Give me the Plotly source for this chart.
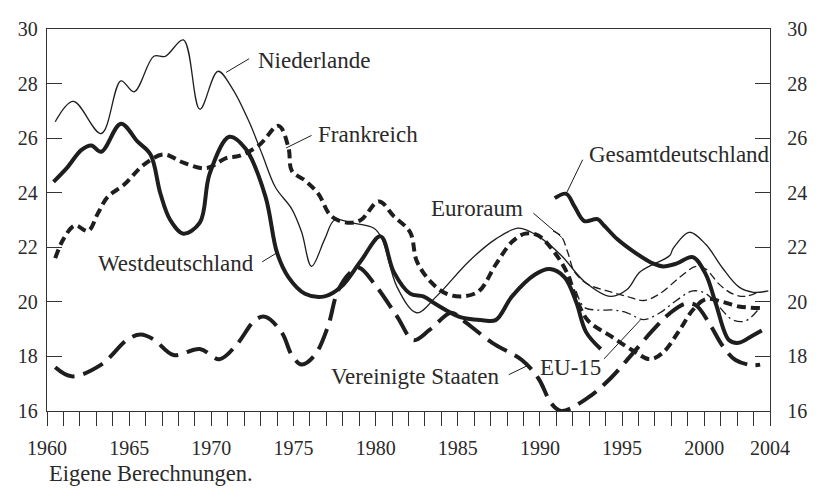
import plotly.graph_objects as go

# Niederlande (duenn, durchgezogen)
nl_x = [1960.5, 1961.6, 1963.3, 1964.5, 1965.3, 1966.5, 1967.2, 1968.3, 1969.3, 1970.4,
        1971.3, 1972.3, 1973.1, 1973.9, 1974.9, 1975.5, 1976.1, 1976.9, 1977.5, 1978.5,
        1979.9, 1980.4, 1981.3, 1982.5, 1983.7, 1985.7, 1987.3, 1988.7, 1989.9, 1991.3,
        1992.7, 1994.3, 1995.3, 1996.1, 1997.9, 1998.1, 1999.1, 2000.1, 2001.1, 2002.1,
        2003.0, 2003.9]
nl_y = [26.6, 27.35, 26.17, 28.1, 27.7, 29.0, 29.0, 29.6, 27.06, 28.45,
        27.8, 26.6, 25.4, 24.2, 23.4, 22.55, 21.3, 22.3, 23.0, 22.9,
        22.7, 22.3, 20.55, 19.6, 20.2, 21.5, 22.3, 22.7, 22.4, 21.7,
        20.75, 20.2, 20.45, 21.1, 21.7, 21.95, 22.55, 22.1, 21.25, 20.55,
        20.35, 20.4]

# Westdeutschland (dick, durchgezogen)
wd_x = [1960.4, 1961.2, 1962.1, 1962.7, 1963.3, 1964.5, 1965.5, 1966.3, 1966.9, 1967.5,
        1968.3, 1969.3, 1969.9, 1971.1, 1972.1, 1973.3, 1974.0, 1974.7, 1975.7, 1976.9,
        1977.9, 1979.1, 1980.3, 1981.1, 1982.1, 1982.9, 1983.7, 1985.1, 1986.5, 1987.3,
        1988.3, 1989.7, 1990.6, 1991.5, 1992.2, 1992.8, 1993.7]
wd_y = [24.4, 24.9, 25.57, 25.73, 25.5, 26.53, 25.88, 25.4, 23.97, 23.0,
        22.5, 22.9, 24.7, 26.05, 25.6, 23.85, 21.8, 20.9, 20.3, 20.2,
        20.55, 21.5, 22.4, 21.1, 20.3, 20.2, 19.9, 19.45, 19.33, 19.33,
        20.2, 21.0, 21.2, 20.9, 20.0, 18.9, 18.27]

# Gesamtdeutschland (dick, durchgezogen)
gd_x = [1990.9, 1991.6, 1992.1, 1992.7, 1993.5, 1993.9, 1994.7, 1995.7, 1996.9, 1997.5,
        1998.3, 1999.3, 2000.1, 2000.7, 2001.5, 2002.1, 2002.9, 2003.5]
gd_y = [23.8, 23.96, 23.5, 22.96, 23.03, 22.8, 22.3, 21.84, 21.4, 21.3,
        21.4, 21.64, 21.0, 19.94, 18.6, 18.5, 18.75, 18.95]

# Frankreich (dick, kurz gestrichelt)
fr_x = [1960.5, 1961.0, 1961.7, 1962.5, 1963.1, 1963.7, 1964.7, 1965.9, 1967.1, 1968.3,
        1969.7, 1970.9, 1971.7, 1972.9, 1974.1, 1974.7, 1974.9, 1975.7, 1976.5, 1977.3,
        1978.3, 1979.1, 1980.2, 1981.1, 1982.1, 1982.5, 1983.3, 1984.3, 1985.3, 1986.3,
        1987.3, 1988.3, 1989.1, 1989.9, 1990.9, 1991.7, 1992.1, 1992.9, 1994.3, 1995.7,
        1996.7, 1997.5, 1998.5, 1999.3, 2000.1, 2001.1, 2002.1, 2003.4]
fr_y = [21.6, 22.3, 22.8, 22.6, 23.25, 23.85, 24.3, 25.03, 25.4, 25.1,
        24.9, 25.27, 25.35, 25.74, 26.45, 25.64, 24.8, 24.45, 23.97, 23.14,
        22.9, 23.0, 23.68, 23.14, 22.55, 21.5, 20.77, 20.3, 20.2, 20.4,
        21.36, 22.2, 22.5, 22.43, 21.8, 21.0, 20.3, 19.33, 18.75, 18.2,
        17.9, 18.15, 18.97, 19.7, 20.1, 20.0, 19.83, 19.77]

# Euroraum (duenn, gestrichelt)
ez_x = [1990.8, 1991.3, 1991.7, 1992.1, 1992.9, 1994.1, 1995.3, 1996.3, 1997.3, 1998.5,
        1999.5, 2000.1, 2000.9, 2001.7, 2002.5, 2003.4]
ez_y = [22.6, 22.4, 21.8, 21.1, 20.65, 20.4, 20.2, 20.05, 20.3, 20.9,
        21.3, 21.2, 20.65, 20.3, 20.2, 20.4]

# EU-15 (duenn, Strich-Punkt)
e15_x = [1992.2, 1992.7, 1993.5, 1994.5, 1995.3, 1996.3, 1997.3, 1998.3, 1999.3, 2000.1,
         2000.9, 2001.7, 2002.5, 2003.4]
e15_y = [20.4, 19.8, 19.7, 19.7, 19.6, 19.35, 19.6, 20.05, 20.4, 20.3,
         19.82, 19.35, 19.3, 19.8]

# Vereinigte Staaten (dick, lang gestrichelt)
us_x = [1960.5, 1961.5, 1963.3, 1964.9, 1965.7, 1966.5, 1967.7, 1969.3, 1970.5, 1971.5,
        1972.7, 1973.3, 1974.3, 1974.9, 1975.5, 1976.3, 1977.1, 1977.7, 1978.5, 1979.0,
        1980.0, 1981.3, 1982.3, 1983.3, 1984.6, 1985.3, 1987.1, 1988.9, 1989.9, 1990.7,
        1991.3, 1992.9, 1994.3, 1995.7, 1996.9, 1997.9, 1998.9, 1999.5, 2000.3, 2001.1,
        2001.9, 2002.9, 2003.4]
us_y = [17.6, 17.27, 17.7, 18.62, 18.8, 18.62, 18.05, 18.27, 17.9, 18.4,
        19.35, 19.45, 18.86, 18.05, 17.7, 18.05, 19.1, 20.4, 21.1, 21.25,
        20.6, 19.47, 18.6, 18.98, 19.6, 19.33, 18.5, 17.87, 17.2, 16.27,
        16.0, 16.48, 17.2, 18.15, 18.98, 19.58, 19.94, 19.87, 19.22, 18.4,
        17.87, 17.68, 17.7]

years = list(range(1960, 2005))
year_labels = [str(y) if (y % 5 == 0 or y == 2004) else "" for y in years]
y_ticks = [16, 18, 20, 22, 24, 26, 28, 30]

INK = "#1e1e1e"
TEXT = "#2a2a2a"
FONT = "Liberation Serif"

fig = go.Figure()

def add_line(x, y, width, dash="solid", yaxis="y"):
    fig.add_trace(go.Scatter(
        x=x, y=y, mode="lines", yaxis=yaxis, showlegend=False, hoverinfo="skip",
        line=dict(color=INK, width=width, dash=dash, shape="spline", smoothing=1.0),
    ))

add_line(us_x, us_y, 4, "22px,9px")
add_line(fr_x, fr_y, 4, "9px,5px")
add_line(ez_x, ez_y, 1.3, "8px,4px")
add_line(e15_x, e15_y, 1.3, "9px,4px,2px,4px")
add_line(nl_x, nl_y, 1.3)
add_line(wd_x, wd_y, 4)
add_line(gd_x, gd_y, 4, yaxis="y2")

# Beschriftungen mit Hinweislinien
labels = [
    ("Niederlande", 1972.7, 28.84, "left", (1972.3, 28.91, 1970.9, 28.41)),
    ("Frankreich", 1976.4, 26.13, "left", (1976.1, 26.10, 1974.55, 25.64)),
    ("Westdeutschland", 1972.7, 21.40, "right", (1973.1, 21.47, 1974.0, 21.8)),
    ("Euroraum", 1989.1, 23.43, "right", (1989.6, 23.25, 1991.33, 22.36)),
    ("Gesamtdeutschland", 1992.85, 25.39, "left", (1992.6, 25.21, 1991.65, 24.03)),
    ("Vereinigte Staaten", 1987.6, 17.26, "right", (1988.1, 17.33, 1989.3, 17.68)),
    ("EU-15", 1989.9, 17.59, "left", (1993.9, 17.91, 1996.1, 19.33)),
]
for text, lx, ly, anchor, (x0, y0, x1, y1) in labels:
    fig.add_annotation(x=lx, y=ly, text=text, showarrow=False, xanchor=anchor,
                       yanchor="middle", font=dict(family=FONT, size=23, color=TEXT))
    fig.add_shape(type="line", x0=x0, y0=y0, x1=x1, y1=y1, xref="x", yref="y",
                  line=dict(color=INK, width=1))

fig.add_annotation(x=0, y=-0.163, xref="paper", yref="paper", text="Eigene Berechnungen.",
                   showarrow=False, xanchor="left", yanchor="middle",
                   font=dict(family=FONT, size=22.5, color=TEXT))

axis_common = dict(showgrid=False, zeroline=False, showline=True, linecolor="#333",
                   linewidth=1.3, tickcolor="#333", tickwidth=1.3,
                   tickfont=dict(family=FONT, size=20, color=TEXT))

# the page body adds an 8px offset, so the figure is drawn 8px smaller
fig.update_layout(
    width=809, height=489,
    margin=dict(l=37, r=39, t=10, b=86),
    paper_bgcolor="white", plot_bgcolor="white",
    xaxis=dict(range=[1960, 2004], tickvals=years, ticktext=year_labels,
               ticks="outside", ticklen=14, mirror=True, ticklabelstandoff=5,
               **axis_common),
    yaxis=dict(range=[16, 30], tickvals=y_ticks, ticks="inside", ticklen=15,
               ticklabelstandoff=4, **axis_common),
    yaxis2=dict(range=[16, 30], tickvals=y_ticks, ticks="inside", ticklen=15,
                overlaying="y", side="right", ticklabelstandoff=12, **axis_common),
)

fig.write_html("out.html")
